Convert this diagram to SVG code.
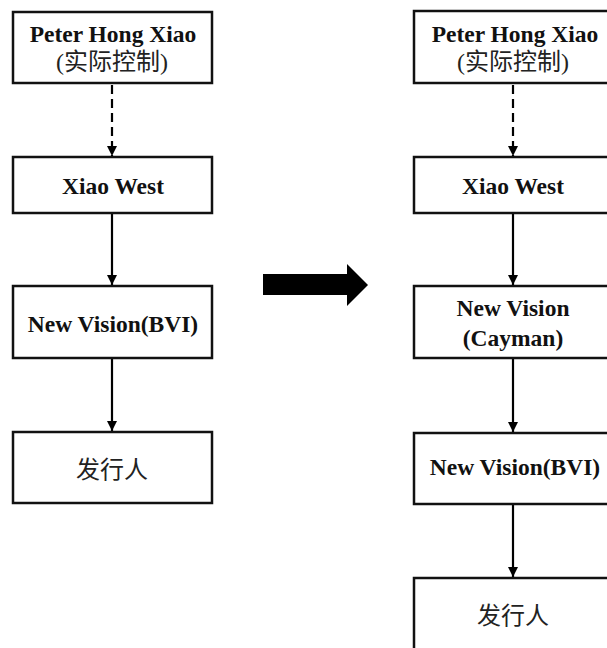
<svg xmlns="http://www.w3.org/2000/svg" width="607" height="648" viewBox="0 0 607 648">
<defs>
<marker id="ah" markerUnits="userSpaceOnUse" markerWidth="10" markerHeight="11" viewBox="0 0 10 11" refX="10" refY="5.5" orient="auto">
<path d="M0,0.5 L10,5.5 L0,10.5 Z" fill="#000"/>
</marker>
</defs>
<style>
.box{fill:#fff;stroke:#111;stroke-width:2.5}
.en{font-family:"Liberation Serif","Times New Roman",serif;font-weight:bold;font-size:23.5px;fill:#111;text-anchor:middle}
.cn{font-family:"Liberation Serif","Noto Sans CJK SC",serif;font-weight:normal;font-size:24px;fill:#222;text-anchor:middle}
.ln{stroke:#000;stroke-width:2.2;fill:none;marker-end:url(#ah)}
.dash{stroke-dasharray:9 5}
</style>
<rect width="607" height="648" fill="#fff"/>
<g id="connectors">
<line class="ln dash" x1="112" y1="85" x2="112" y2="156"/>
<line class="ln" x1="112" y1="214" x2="112" y2="285"/>
<line class="ln" x1="112" y1="359" x2="112" y2="431"/>
<line class="ln dash" x1="513" y1="85" x2="513" y2="156"/>
<line class="ln" x1="513" y1="214" x2="513" y2="285"/>
<line class="ln" x1="513" y1="359" x2="513" y2="432"/>
<line class="ln" x1="513" y1="505" x2="513" y2="577"/>
<polygon id="transition-arrow" points="263,274 347,274 347,264 368,285 347,306 347,295 263,295" fill="#000"/>
</g>
<g id="l-peter">
<rect class="box" x="13" y="12" width="199" height="71"/>
<text class="en" x="113" y="42">Peter Hong Xiao</text>
<text class="cn" x="112" y="70">(实际控制)</text>
</g>
<g id="l-xiaowest">
<rect class="box" x="13" y="157" width="199" height="56"/>
<text class="en" x="113" y="194">Xiao West</text>
</g>
<g id="l-nvbvi">
<rect class="box" x="13" y="286" width="199" height="72"/>
<text class="en" x="113" y="332">New Vision(BVI)</text>
</g>
<g id="l-issuer">
<rect class="box" x="13" y="432" width="199" height="71"/>
<text class="cn" x="112" y="478">发行人</text>
</g>
<g id="r-peter">
<rect class="box" x="414" y="11" width="199" height="72"/>
<text class="en" x="515" y="42">Peter Hong Xiao</text>
<text class="cn" x="513" y="70">(实际控制)</text>
</g>
<g id="r-xiaowest">
<rect class="box" x="414" y="157" width="199" height="56"/>
<text class="en" x="513" y="194">Xiao West</text>
</g>
<g id="r-nvcayman">
<rect class="box" x="414" y="286" width="199" height="72"/>
<text class="en" x="513" y="316">New Vision</text>
<text class="en" x="513" y="346">(Cayman)</text>
</g>
<g id="r-nvbvi">
<rect class="box" x="414" y="433" width="199" height="71"/>
<text class="en" x="515" y="475">New Vision(BVI)</text>
</g>
<g id="r-issuer">
<rect class="box" x="414" y="578" width="199" height="72"/>
<text class="cn" x="513" y="624">发行人</text>
</g>
</svg>
